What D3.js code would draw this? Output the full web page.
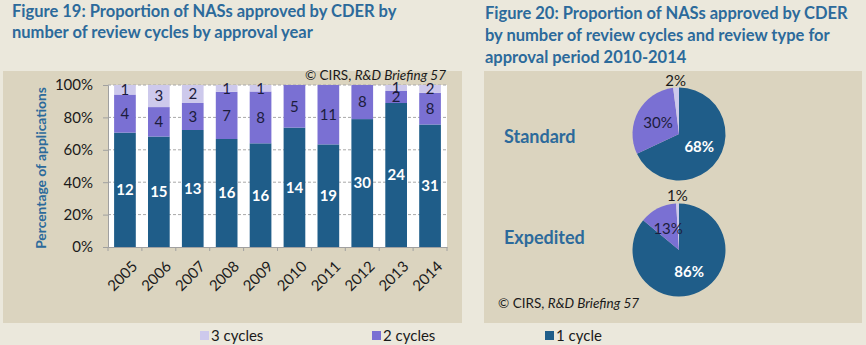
<!DOCTYPE html>
<html>
<head>
<meta charset="utf-8">
<script src="https://cdn.jsdelivr.net/npm/d3@7"></script>
<style>
  body { margin: 0; background: #ebe8dc; }
  svg { display: block; font-family: Lato, "Open Sans", sans-serif; }
</style>
</head>
<body>
<div id="chart"></div>
<script>
// Figure 19 data: counts of NASs per review-cycle count
const years = ["2005", "2006", "2007", "2008", "2009", "2010", "2011", "2012", "2013", "2014"];
const oneCycle = [12, 15, 13, 16, 16, 14, 19, 30, 24, 31];
const twoCycles = [4, 4, 3, 7, 8, 5, 11, 8, 2, 8];
const threeCycles = [1, 3, 2, 1, 1, 0, 0, 0, 1, 2];
const yTicks = [0, 0.2, 0.4, 0.6, 0.8, 1];

// Figure 20 data: share by review type, 2010-2014
const reviewTypes = ["Standard", "Expedited"];
const pieOne = [68, 86];
const pieTwo = [30, 13];
const pieThree = [2, 1];

const seriesKeys = ["one", "two", "three"];
const legendLabels = ["3 cycles", "2 cycles", "1 cycle"];
const COLORS = { one: "#1f5d89", two: "#7a70d3", three: "#cdc9ec" };
const BLUE = "#2c6a9b";
const W = 866, H = 345;

const svg = d3.select("#chart").append("svg")
    .attr("width", W).attr("height", H)
    .attr("viewBox", [0, 0, W, H]);

svg.append("rect").attr("width", W).attr("height", H).attr("fill", "#ebe8dc");

// ---------- titles ----------
const titleLeft = svg.append("text").attr("fill", BLUE).attr("font-weight", "bold").attr("font-size", 16.5);
["Figure 19: Proportion of NASs approved by CDER by", "number of review cycles by approval year"]
    .forEach((t, i) => titleLeft.append("tspan").attr("x", 12).attr("y", 17 + i * 20.5).text(t));

const titleRight = svg.append("text").attr("fill", BLUE).attr("font-weight", "bold").attr("font-size", 16.5);
["Figure 20: Proportion of NASs approved by CDER", "by number of review cycles and review type for", "approval period 2010-2014"]
    .forEach((t, i) => titleRight.append("tspan").attr("x", 485).attr("y", 19 + i * 22).text(t));

// ---------- left panel: stacked bars ----------
svg.append("rect").attr("x", 3).attr("y", 71).attr("width", 459).attr("height", 252).attr("fill", "#dbd4bf");

const plot = { left: 108, right: 447, top: 85, bottom: 247 };
svg.append("rect").attr("x", plot.left).attr("y", plot.top)
    .attr("width", plot.right - plot.left).attr("height", plot.bottom - plot.top).attr("fill", "#fff");

const rows = years.map((y, i) => ({ year: y, one: oneCycle[i], two: twoCycles[i], three: threeCycles[i] }));
const stacked = d3.stack().keys(seriesKeys).offset(d3.stackOffsetExpand)(rows);

const x = d3.scaleBand().domain(years).range([plot.left, plot.right]).paddingInner(0.36).paddingOuter(0.18);
const y = d3.scaleLinear().domain([0, 1]).range([plot.bottom, plot.top]);

// gridlines
svg.append("g").selectAll("line").data(yTicks.filter(d => d > 0)).join("line")
    .attr("x1", plot.left).attr("x2", plot.right)
    .attr("y1", d => y(d)).attr("y2", d => y(d))
    .attr("stroke", "#a8a8a8").attr("stroke-dasharray", "3,2").attr("stroke-width", 1);

// bars
const layers = svg.append("g").selectAll("g").data(stacked).join("g").attr("fill", d => COLORS[d.key]);
layers.selectAll("rect").data(d => d).join("rect")
    .attr("x", d => x(d.data.year)).attr("width", x.bandwidth())
    .attr("y", d => y(d[1])).attr("height", d => y(d[0]) - y(d[1]));

// count labels
layers.each(function (layer) {
    d3.select(this).selectAll("text").data(layer.filter(d => d.data[layer.key] > 0)).join("text")
        .attr("x", d => x(d.data.year) + x.bandwidth() / 2)
        .attr("y", d => (y(d[0]) + y(d[1])) / 2)
        .attr("dy", "0.36em").attr("text-anchor", "middle").attr("font-size", 15)
        .attr("fill", layer.key === "one" ? "#fff" : "#1c1c3c")
        .attr("font-weight", layer.key === "one" ? "bold" : "normal")
        .text(d => d.data[layer.key]);
});

// axes
const yAxis = svg.append("g").attr("transform", `translate(${plot.left},0)`)
    .call(d3.axisLeft(y).tickValues(yTicks).tickFormat(d3.format(".0%")).tickSize(5).tickPadding(10));
const xAxis = svg.append("g").attr("transform", `translate(0,${plot.bottom})`)
    .call(d3.axisBottom(x).tickSize(0).tickPadding(0).tickFormat(""));
[yAxis, xAxis].forEach(g => {
    g.select(".domain").attr("stroke", "#a0a0a0");
    g.selectAll(".tick line").attr("stroke", "#a0a0a0");
});
yAxis.selectAll("text").attr("font-size", 15).attr("fill", "#1a1a1a").attr("font-family", "Lato, sans-serif");

// x ticks between bands
const step = x.step();
svg.append("g").selectAll("line").data(d3.range(years.length + 1)).join("line")
    .attr("x1", i => plot.left + i * step).attr("x2", i => plot.left + i * step)
    .attr("y1", plot.bottom).attr("y2", plot.bottom + 4).attr("stroke", "#a0a0a0");

// rotated year labels
svg.append("g").selectAll("text").data(years).join("text")
    .attr("transform", d => `translate(${x(d) + x.bandwidth() / 2 + 6},${plot.bottom + 13}) rotate(-45)`)
    .attr("text-anchor", "end").attr("dy", "0.7em").attr("font-size", 15).attr("fill", "#1a1a1a")
    .text(d => d);

svg.append("text").attr("transform", "translate(46,168) rotate(-90)")
    .attr("text-anchor", "middle").attr("font-size", 13.8).attr("font-weight", "bold").attr("fill", BLUE)
    .text("Percentage of applications");

const credit = (sel, xPos, yPos, anchor) => {
    const t = sel.append("text").attr("x", xPos).attr("y", yPos).attr("text-anchor", anchor)
        .attr("font-size", 13.5).attr("fill", "#1a1a1a");
    t.append("tspan").text("© CIRS, ");
    t.append("tspan").attr("font-style", "italic").text("R&D Briefing 57");
};
credit(svg, 446, 80, "end");

// ---------- right panel: pies ----------
svg.append("rect").attr("x", 484).attr("y", 71).attr("width", 378).attr("height", 252).attr("fill", "#dbd4bf");

const pieCenters = d3.scalePoint().domain(reviewTypes).range([134, 250]);
const typeLabelY = d3.scalePoint().domain(reviewTypes).range([143, 244]);
const R = 46.5;
const pie = d3.pie().sort(null).value(d => d.value);
const arc = d3.arc().innerRadius(0).outerRadius(R);
const labelArc = d3.arc().innerRadius(24).outerRadius(24);
const outerArc = d3.arc().innerRadius(54).outerRadius(54);

reviewTypes.forEach((type, i) => {
    const slices = pie([
        { key: "one", value: pieOne[i] },
        { key: "two", value: pieTwo[i] },
        { key: "three", value: pieThree[i] }
    ]);
    const g = svg.append("g").attr("transform", `translate(679,${pieCenters(type)})`);
    g.selectAll("path").data(slices).join("path")
        .attr("d", arc).attr("fill", d => COLORS[d.data.key]);
    g.selectAll("text").data(slices).join("text")
        .attr("transform", d => {
            const [cx, cy] = d.data.value < 5 ? outerArc.centroid(d) : labelArc.centroid(d);
            return `translate(${cx},${cy})`;
        })
        .attr("dy", "0.36em").attr("text-anchor", "middle").attr("font-size", 15)
        .attr("fill", d => d.data.key === "one" ? "#fff" : (d.data.key === "two" ? "#1c1c3c" : "#1a1a1a"))
        .attr("font-weight", d => d.data.key === "one" ? "bold" : "normal")
        .text(d => d.data.value + "%");

    svg.append("text").attr("x", 504).attr("y", typeLabelY(type))
        .attr("font-size", 18).attr("font-weight", "bold").attr("fill", BLUE).text(type);
});
credit(svg, 498, 308, "start");

// ---------- legend ----------
const legendX = [200, 372, 545];
const legend = svg.append("g").selectAll("g").data(["three", "two", "one"]).join("g")
    .attr("transform", (d, i) => `translate(${legendX[i]},331)`);
legend.append("rect").attr("width", 9).attr("height", 9).attr("fill", d => COLORS[d]);
legend.append("text").attr("x", 11).attr("y", 10).attr("font-size", 15).attr("fill", "#1a1a1a")
    .text((d, i) => legendLabels[i]);
</script>
</body>
</html>
